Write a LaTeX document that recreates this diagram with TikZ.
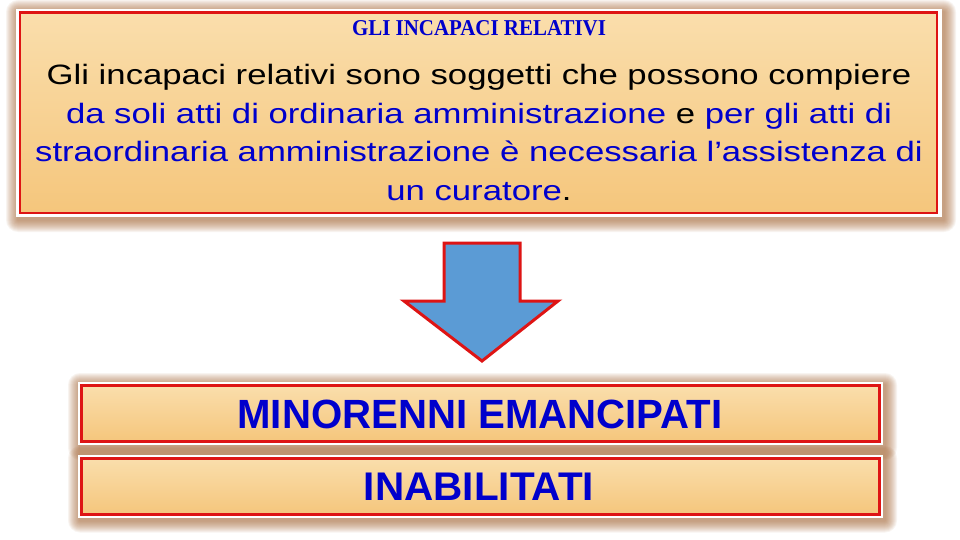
\documentclass[tikz,border=0pt]{standalone}
\usepackage{fontspec}
\setmainfont{Liberation Sans}
\newfontfamily\titlefont{Liberation Serif}
\usepackage{graphicx}
\definecolor{boxred}{RGB}{222,20,20}
\definecolor{txtblue}{RGB}{0,0,204}
\definecolor{peachtop}{RGB}{250,222,172}
\definecolor{peachbot}{RGB}{245,198,124}
\definecolor{glowc}{RGB}{165,100,50}
\definecolor{arrowblue}{RGB}{91,155,213}
\newcommand\glowrect[4]{%
  \foreach \i in {1,...,12}{%
    \fill[glowc, opacity=0.07, rounded corners=\i pt]
      ({#1-\i+2},{#2-\i+3}) rectangle ({#3+\i+2},{#4+\i+3});
  }}
\tikzset{
  peachbox/.style={rectangle, draw=boxred, line width=2.5pt, inner sep=0pt,
    top color=peachtop, bottom color=peachbot},
  whiteedge/.style={fill=white},
  bigword/.style={text=txtblue, inner sep=0pt, font=\bfseries},
}
\begin{document}
\begin{tikzpicture}[x=1pt,y=-1pt]
\useasboundingbox (0,0) rectangle (960,540);
\fill[white] (0,0) rectangle (960,540);

% top box
\glowrect{16}{9}{942}{217}
\fill[whiteedge] (16,9) rectangle (942,217);
\node[peachbox, minimum width=917pt, minimum height=200.5pt] (top) at (478.5,112.75) {};
\node[inner sep=0pt, text=txtblue] (title) at (479,28.5)
  {\resizebox{254pt}{15pt}{\titlefont\bfseries GLI INCAPACI RELATIVI}};
\node[anchor=north, inner sep=0pt, align=center, xscale=1.24, transform shape,
  font=\fontsize{28}{38.5}\selectfont] (body) at (479,64.5)
  {Gli incapaci relativi sono soggetti che possono compiere\\
   \textcolor{txtblue}{da soli atti di ordinaria amministrazione} e \textcolor{txtblue}{per gli atti di}\\
   \textcolor{txtblue}{straordinaria amministrazione è necessaria l’assistenza di}\\
   \textcolor{txtblue}{un curatore}.};

% arrow
\coordinate (a1) at (444,243);
\coordinate (a2) at (520,243);
\coordinate (a3) at (520,301);
\coordinate (a4) at (558,301);
\coordinate (tip) at (482,361);
\coordinate (a6) at (404,301);
\coordinate (a7) at (444,301);
\draw[fill=arrowblue, draw=boxred, line width=3pt, line join=miter]
  (a1) -- (a2) -- (a3) -- (a4) -- (tip) -- (a6) -- (a7) -- cycle;

% lower boxes
\glowrect{78}{382}{883}{445}
\glowrect{78}{455}{883}{517.5}
\fill[whiteedge] (78,382) rectangle (883,445);
\fill[whiteedge] (78,455) rectangle (883,517.5);
\node[peachbox, minimum width=798pt, minimum height=56pt] (minor) at (480.5,413.25) {};
\node[peachbox, minimum width=798pt, minimum height=56pt] (inab) at (480.5,486.25) {};
\node[bigword] (minortxt) at (480,414.2)
  {\resizebox{485pt}{28.5pt}{\bfseries MINORENNI EMANCIPATI}};
\node[bigword] (inabtxt) at (479,487)
  {\resizebox{230pt}{27.5pt}{\bfseries INABILITATI}};
\end{tikzpicture}
\end{document}
